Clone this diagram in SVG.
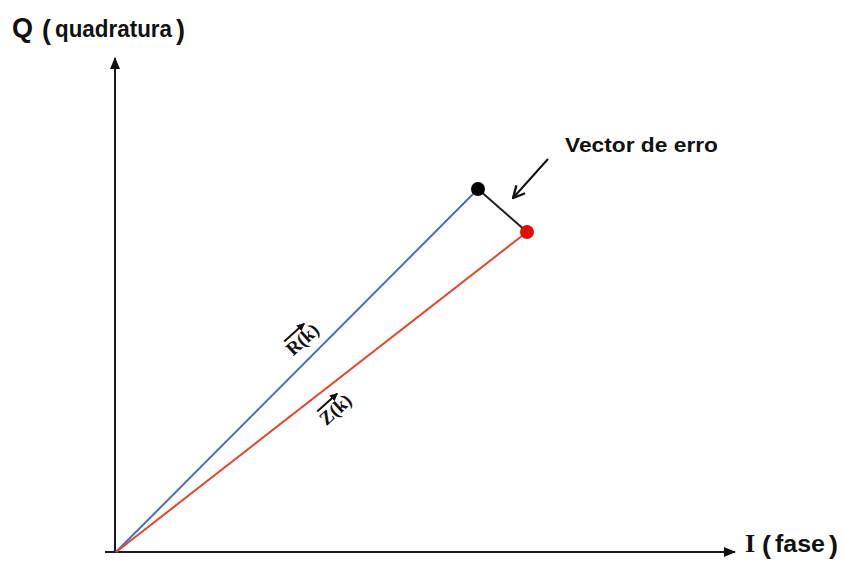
<svg xmlns="http://www.w3.org/2000/svg" width="844" height="563" viewBox="0 0 844 563">
<style>
.axis{stroke:#1a1a1a;stroke-width:2;fill:none}
.sans{font-family:"Liberation Sans",Arial,sans-serif;font-weight:bold;fill:#111}
.serif{font-family:"Liberation Serif","Times New Roman",serif;fill:#111}
</style>
<defs>
<marker id="tri" viewBox="0 0 10 10" refX="9" refY="5" markerWidth="8" markerHeight="8" markerUnits="userSpaceOnUse" orient="auto">
<path d="M0,0 L10,5 L0,10 Z" fill="#111"/>
</marker>
<marker id="axh" viewBox="0 0 12 10" refX="11" refY="5" markerWidth="12" markerHeight="10" markerUnits="userSpaceOnUse" orient="auto">
<path d="M0,0 L12,5 L0,10 Z" fill="#111"/>
</marker>
<marker id="vee" viewBox="0 0 12 12" refX="11" refY="6" markerWidth="14" markerHeight="14" markerUnits="userSpaceOnUse" orient="auto">
<path d="M1,1 L11,6 L1,11" fill="none" stroke="#111" stroke-width="2"/>
</marker>
</defs>
<rect width="844" height="563" fill="#fff"/>
<g id="connectors">
<line class="axis" x1="115" y1="553" x2="115" y2="58" marker-end="url(#axh)"/>
<line class="axis" x1="105" y1="552" x2="735" y2="552" marker-end="url(#axh)"/>
<line x1="116" y1="552" x2="478" y2="189" stroke="#4a6cbf" stroke-width="2"/>
<line x1="116" y1="552" x2="527" y2="232" stroke="#e2462b" stroke-width="2"/>
<line x1="478" y1="189" x2="527" y2="232" stroke="#222" stroke-width="2"/>
<line x1="548" y1="159" x2="513" y2="198" stroke="#111" stroke-width="2" marker-end="url(#vee)"/>
</g>
<g id="point-R"><circle cx="478" cy="189" r="7" fill="#000"/></g>
<g id="point-Z"><circle cx="527" cy="232" r="7" fill="#dd1100"/></g>
<g id="label-Q">
<text class="sans" x="12" y="37" font-size="27">Q</text>
<text class="sans" x="42" y="39" font-size="27" textLength="9" lengthAdjust="spacingAndGlyphs">(</text>
<text class="sans" x="55" y="37" font-size="23" textLength="117" lengthAdjust="spacingAndGlyphs">quadratura</text>
<text class="sans" x="176" y="39" font-size="27" textLength="9" lengthAdjust="spacingAndGlyphs">)</text>
</g>
<g id="label-I">
<text class="serif" x="745" y="552" font-size="26" font-weight="bold">I</text>
<text class="sans" x="762" y="554" font-size="26" textLength="9" lengthAdjust="spacingAndGlyphs">(</text>
<text class="sans" x="775" y="552" font-size="23" textLength="50" lengthAdjust="spacingAndGlyphs">fase</text>
<text class="sans" x="829" y="554" font-size="26" textLength="9" lengthAdjust="spacingAndGlyphs">)</text>
</g>
<g id="label-error">
<text class="sans" x="565" y="152" font-size="21" textLength="153" lengthAdjust="spacingAndGlyphs">Vector de erro</text>
</g>
<g id="label-R" transform="translate(302,339) rotate(-42)">
<text class="serif" x="0" y="7" font-size="19" font-weight="bold" text-anchor="middle">R(k)</text>
<line x1="-15" y1="-10" x2="12" y2="-10" stroke="#111" stroke-width="2" marker-end="url(#tri)"/>
</g>
<g id="label-Z" transform="translate(335,409) rotate(-42)">
<text class="serif" x="0" y="7" font-size="19" font-weight="bold" text-anchor="middle">Z(k)</text>
<line x1="-15" y1="-10" x2="12" y2="-10" stroke="#111" stroke-width="2" marker-end="url(#tri)"/>
</g>
</svg>
